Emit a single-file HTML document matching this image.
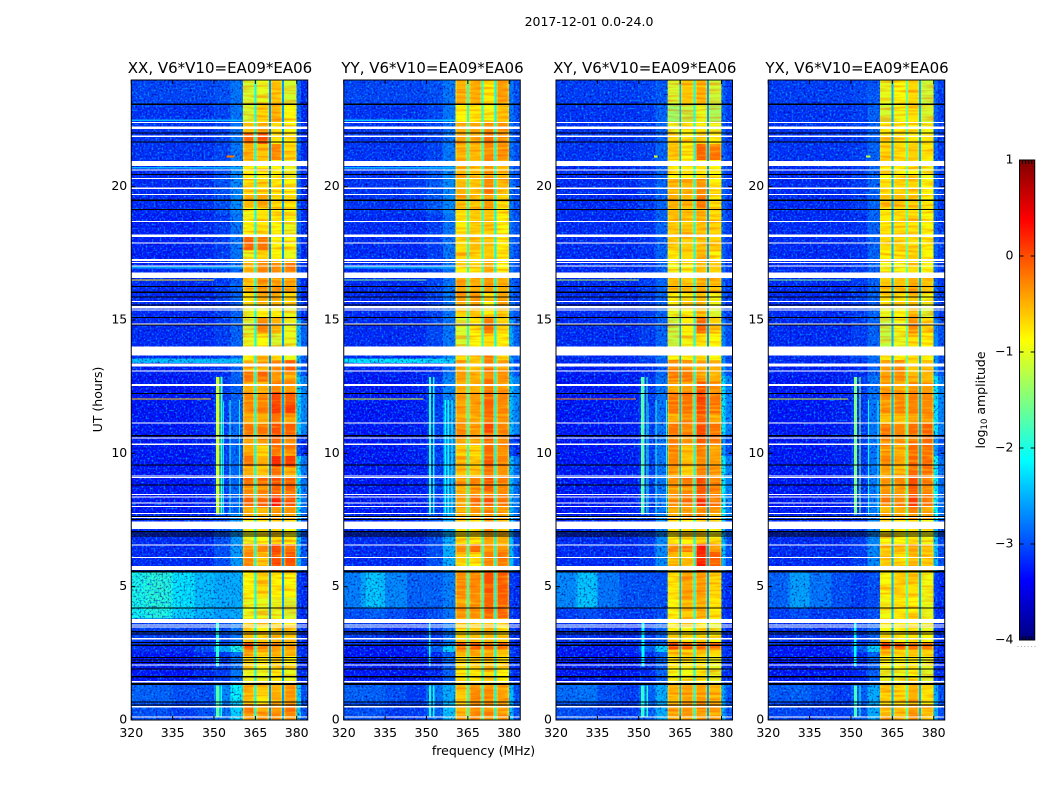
<!DOCTYPE html>
<html lang="en">
<head>
<meta charset="utf-8">
<title>2017-12-01 0.0-24.0</title>
<style>
html,body{margin:0;padding:0;background:#fff;width:1050px;height:800px;overflow:hidden}
svg{display:block}
text{font-family:"DejaVu Sans","Liberation Sans",sans-serif;fill:#000}
</style>
</head>
<body>
<svg id="chart" xmlns="http://www.w3.org/2000/svg" width="1050" height="800" viewBox="0 0 1050 800">
  <defs>
    <filter id="speckleDark" x="0" y="0" width="100%" height="100%" color-interpolation-filters="sRGB">
      <feTurbulence type="fractalNoise" baseFrequency="0.5" numOctaves="1" seed="4"/>
      <feColorMatrix type="matrix" values="0 0 0 0 0  0 0 0 0 0  0 0 0 0 0.55  2.4 0 0 0 -1.15"/>
    </filter>
    <filter id="speckleLight" x="0" y="0" width="100%" height="100%" color-interpolation-filters="sRGB">
      <feTurbulence type="fractalNoise" baseFrequency="0.5" numOctaves="1" seed="11"/>
      <feColorMatrix type="matrix" values="0 0 0 0 0  0 0 0 0 0.65  0 0 0 0 1  0 2.8 0 0 -1.4"/>
    </filter>
    <filter id="stripeRed" x="0" y="0" width="100%" height="100%" color-interpolation-filters="sRGB">
      <feTurbulence type="fractalNoise" baseFrequency="0.04 0.42" numOctaves="1" seed="7"/>
      <feColorMatrix type="matrix" values="0 0 0 0 1  0 0 0 0 0.3  0 0 0 0 0  2.8 0 0 0 -1.2"/>
    </filter>
    <filter id="stripeYellow" x="0" y="0" width="100%" height="100%" color-interpolation-filters="sRGB">
      <feTurbulence type="fractalNoise" baseFrequency="0.04 0.42" numOctaves="1" seed="19"/>
      <feColorMatrix type="matrix" values="0 0 0 0 1  0 0 0 0 1  0 0 0 0 0.1  0 2.8 0 0 -1.35"/>
    </filter>
    <linearGradient id="jetGradient" x1="0" y1="1" x2="0" y2="0"></linearGradient>
  </defs>
  <text x="589" y="26" font-size="12.5" text-anchor="middle">2017-12-01 0.0-24.0</text>
  <text x="483.5" y="755" font-size="12.5" text-anchor="middle">frequency (MHz)</text>
  <text x="0" y="0" font-size="12.5" text-anchor="middle" transform="translate(102,399.5) rotate(-90)">UT (hours)</text>
  <g id="panels"></g>
  <g id="colorbar"></g>
  <text x="0" y="0" font-size="12.5" text-anchor="middle" transform="translate(985,400) rotate(-90)">log<tspan font-size="8.5" dy="2">10</tspan><tspan dy="-2"> amplitude</tspan></text>
</svg>
<script>
// ---- labels and ticks
const panelTitles = ["XX, V6*V10=EA09*EA06", "YY, V6*V10=EA09*EA06", "XY, V6*V10=EA09*EA06", "YX, V6*V10=EA09*EA06"];
const freqTicks = [320, 335, 350, 365, 380];
const utTicks = [0, 5, 10, 15, 20];
const colorbarTicks = [1, 0, -1, -2, -3, -4];

// ---- background grid below the passband: log10 amplitude
const bgFreqEdges = [320, 328, 335, 343, 350, 356, 360.5];
const bgUtEdges = [0, 0.7, 1.35, 2.55, 2.8, 3.8, 4.2, 5.55, 7.7, 12.9, 13.39, 13.55, 14, 17, 19, 21, 23, 24];
const bgXX = [
 [-3,-3,-3.1,-3,-2.8,-2.3],[-2.9,-2.9,-3,-3,-2.7,-2.1],[-3.3,-3.3,-3.3,-3.2,-3.1,-2.8],[-3.2,-3.2,-3.2,-3,-2.5,-2],
 [-3.1,-3.1,-3.1,-3.1,-3,-2.8],[-2.05,-2,-2.3,-2.45,-2.55,-2.5],[-2,-1.95,-2.2,-2.4,-2.5,-2.5],[-3.2,-3.2,-3.2,-3.2,-3,-2.6],[-3.3,-3.3,-3.3,-3.25,-3.1,-2.9],
 [-3.25,-3.25,-3.25,-3.25,-3.2,-2.9],[-2.4,-2.4,-2.4,-2.4,-2.4,-2.4],[-3.2,-3.2,-3.2,-3.2,-3.1,-2.9],[-3.2,-3.2,-3.2,-3.2,-3.1,-2.9],
 [-3.25,-3.25,-3.25,-3.2,-3.1,-2.8],[-3.2,-3.2,-3.2,-3.15,-3,-2.7],[-3.15,-3.15,-3.15,-3.15,-3.05,-2.8],[-3.05,-3.05,-3.05,-3.05,-3,-2.8]];
const bgYY = [
 [-3,-3,-3.1,-3.1,-2.9,-2.4],[-2.9,-2.9,-3,-3.1,-2.8,-2.5],[-3.3,-3.3,-3.3,-3.3,-3.2,-2.9],[-3.3,-3.3,-3.3,-3.2,-2.9,-2.3],
 [-3.1,-3.1,-3.2,-3.2,-3.1,-2.8],[-3,-2.9,-3,-3.1,-3,-2.8],[-2.75,-2.4,-2.7,-2.9,-2.9,-2.75],[-3.2,-3.2,-3.2,-3.2,-3,-2.5],[-3.3,-3.3,-3.3,-3.25,-3.1,-2.7],
 [-3.25,-3.25,-3.25,-3.25,-3.2,-2.8],[-2.2,-2.2,-2.2,-2.2,-2.25,-2.3],[-3.2,-3.2,-3.2,-3.2,-3,-2.7],[-3.2,-3.2,-3.2,-3.2,-3.05,-2.8],
 [-3.2,-3.2,-3.2,-3.2,-3.1,-2.8],[-3.15,-3.15,-3.15,-3.1,-2.95,-2.7],[-3.15,-3.15,-3.15,-3.15,-3.05,-2.8],[-3.05,-3.05,-3.05,-3.05,-3,-2.8]];
const bgXY = [
 [-3,-3,-3.1,-3.1,-2.9,-2.5],[-2.85,-2.8,-3,-3.1,-2.9,-2.5],[-3.3,-3.3,-3.3,-3.3,-3.2,-2.9],[-3.3,-3.3,-3.3,-3.2,-2.9,-2.3],
 [-3.15,-3.15,-3.2,-3.2,-3.1,-2.9],[-3.1,-3,-3.1,-3.1,-3.1,-3],[-2.7,-2.4,-2.8,-3,-3,-3],[-3.2,-3.2,-3.2,-3.2,-3.1,-2.7],[-3.3,-3.3,-3.3,-3.25,-3.1,-2.8],
 [-3.25,-3.25,-3.25,-3.25,-3.2,-2.9],[-3.2,-3.2,-3.2,-3.2,-3.1,-2.9],[-3.2,-3.2,-3.2,-3.2,-3,-2.8],[-3.2,-3.2,-3.2,-3.2,-3.1,-2.9],
 [-3.2,-3.2,-3.2,-3.2,-3.15,-2.9],[-3.2,-3.2,-3.2,-3.2,-3.1,-2.9],[-3.15,-3.15,-3.15,-3.15,-3.1,-2.9],[-3.1,-3.1,-3.1,-3.1,-3.05,-2.95]];
const bgYX = [
 [-3.05,-3.05,-3.1,-3.1,-2.95,-2.5],[-2.95,-2.9,-3,-3.1,-2.9,-2.5],[-3.3,-3.3,-3.3,-3.3,-3.2,-2.9],[-3.3,-3.3,-3.3,-3.2,-2.9,-2.3],
 [-3.15,-3.15,-3.2,-3.2,-3.1,-2.9],[-3.1,-3,-3.1,-3.1,-3.1,-3],[-2.9,-2.6,-2.8,-3,-3.1,-3],[-3.2,-3.2,-3.2,-3.2,-3.1,-2.7],[-3.3,-3.3,-3.3,-3.25,-3.1,-2.8],
 [-3.25,-3.25,-3.25,-3.25,-3.2,-2.9],[-3.2,-3.2,-3.2,-3.2,-3.1,-2.9],[-3.2,-3.2,-3.2,-3.2,-3,-2.8],[-3.2,-3.2,-3.2,-3.2,-3.1,-2.9],
 [-3.2,-3.2,-3.2,-3.2,-3.15,-2.9],[-3.2,-3.2,-3.2,-3.2,-3.1,-2.9],[-3.15,-3.15,-3.15,-3.15,-3.1,-2.9],[-3.1,-3.1,-3.1,-3.1,-3.05,-2.95]];
const bgValues = [bgXX, bgYY, bgXY, bgYX];

// ---- passband grid: four sub-bands
const bandFreqEdges = [360.5, 365, 370, 375, 380];
const bandUtEdges = [0,.3,.6,1,1.35,1.9,2.4,2.65,2.9,3.3,3.8,4.6,5.55,5.9,6.3,6.6,7,7.5,8,8.4,8.8,9.1,9.5,9.9,10.3,10.7,11.1,11.5,11.9,12.3,12.7,13.1,13.5,14,14.5,15.1,15.5,16,16.6,17.2,17.6,18.2,18.7,19.2,19.7,20.3,21,21.6,22,22.4,23.1,24];
const bandXX = [
 [-.4,-.45,-.3,-.3],[-.2,-.5,-.4,-.2],[-.6,-.8,-.5,-.4],[-.5,-.6,-.5,-.3],[-1,-1,-.8,-1],
 [-.7,-.8,-.7,-.9],[-.4,-.6,-.5,-.5],[0,-.3,-.35,-.4],[-.6,-.7,-.6,-.7],[-.7,-.8,-.7,-.8],
 [-1,-1,-1,-1.1],[-.9,-.7,-.85,-.9],[-.3,-.5,.1,-.05],[-.3,-.6,0,0],[-.4,-.3,.05,-.2],
 [-1,-.9,-.7,-.9],[-1,-.8,-.7,-.9],[-.5,-.5,-.4,-.4],[-.1,-.1,.3,0],[-.3,-.3,-.1,-.1],
 [-.2,-.1,0,-.1],[-.5,-.6,-.2,-.5],[-.2,-.5,.2,.1],[-.5,-.7,-.2,-.3],[-.4,-.4,-.1,-.3],
 [-.2,-.2,0,-.1],[-.5,-.5,-.2,-.4],[-.3,-.3,.1,.1],[-.3,-.3,.05,-.1],[-.5,-.5,-.3,-.4],
 [-.2,-.1,-.4,-.5],[-.5,-.4,-.3,-.1],[-.9,-.6,-.7,-1],[-1,-.9,-1.1,-1],[-1.1,-.3,-.5,-1],
 [-1,-.8,-.9,-1],[-.8,-.6,-.5,-.7],[-.6,-.3,-.4,-.5],[-.5,-.3,-.3,-.2],[-1,-.7,-.9,-1],
 [-.1,-.2,-.9,-.9],[-.9,-.8,-.9,-1],[-.95,-.75,-.8,-.9],[-.55,-.45,-.75,-.8],[-.7,-.7,-.8,-.9],
 [-.8,-.8,-.9,-1],[-.5,-.6,-.3,-.7],[-.1,0,-.8,-.8],[-.6,-.5,-.8,-.9],[-1.1,-.7,-.5,-.9],[-1.1,-1,-.6,-1.1]];
const bandYY = [
 [-.4,-.3,-.3,-.35],[-.5,-.35,-.4,-.45],[-.6,-.3,-.35,-.4],[-.55,-.35,-.35,-.45],[-.8,-.8,-.7,-.85],
 [-.7,-.65,-.55,-.75],[-.5,-.4,-.45,-.6],[0,-.1,-.25,-.1],[-.65,-.6,-.55,-.7],[-.75,-.7,-.6,-.8],
 [-.4,-.35,-.1,-.1],[-.35,-.3,0,-.05],[-.8,-.85,-.3,-.2],[-.6,-.75,-.25,-.2],[-.3,-.15,-.4,-.4],
 [-.75,-.8,-.45,-.5],[-.7,-.75,-.4,-.55],[-.5,-.4,-.3,-.4],[-.35,-.15,0,-.2],[-.5,-.35,-.1,-.3],
 [-.45,-.25,0,-.25],[-.55,-.6,-.2,-.35],[-.55,-.65,-.05,-.25],[-.7,-.75,-.15,-.35],[-.4,-.45,-.1,-.3],
 [-.3,-.4,.05,-.25],[-.45,-.5,-.2,-.4],[-.35,-.4,-.1,-.3],[-.4,-.4,-.1,-.3],[-.5,-.5,-.2,-.4],
 [-.4,-.5,-.15,-.35],[-.5,-.6,-.2,-.45],[-.7,-.6,-.3,-.7],[-1.1,-.9,-.7,-.85],[-1.1,-.8,-.25,-.7],
 [-.7,-.6,-.8,-.6],[-.4,-.4,-.85,-.45],[-.45,-.5,-.4,-.5],[-.8,-.75,-.5,-.85],[-.7,-.7,-.6,-.8],
 [-.75,-.6,-.6,-.85],[-.8,-.65,-.65,-.9],[-.75,-.65,-.6,-.85],[-.55,-.6,-.35,-.7],[-.5,-.6,-.3,-.55],
 [-.55,-.65,-.35,-.6],[-.5,-.55,-.3,-.35],[-.4,-.45,-.2,-.3],[-.45,-.45,-.3,-.35],[-.85,-.8,-.95,-.6],[-.45,-.5,-.8,-.4]];
const bandXY = [
 [-.5,-.4,-.4,-.5],[-.4,-.35,-.35,-.4],[-.55,-.4,-.4,-.5],[-.5,-.45,-.45,-.55],[-.95,-.95,-.85,-1],
 [-.8,-.9,-.8,-1],[-.6,-.7,-.6,-.7],[.05,-.05,-.1,-.15],[-.75,-.8,-.75,-.9],[-.85,-.9,-.8,-1],
 [-.9,-.6,-.5,-.8],[-.8,-.45,-.4,-.7],[-.6,-.6,.3,-.1],[-.55,-.65,.25,-.1],[-.3,-.2,.3,-.4],
 [-.85,-.85,-.7,-.9],[-.8,-.8,-.7,-.95],[-.5,-.35,-.3,-.45],[-.3,-.15,.2,-.2],[-.4,-.3,-.05,-.3],
 [-.35,-.25,.05,-.2],[-.4,-.6,-.3,-.4],[-.3,-.6,-.3,-.4],[-.3,-.6,-.25,-.4],[-.25,-.35,-.05,-.25],
 [-.2,-.3,.05,-.2],[-.5,-.3,-.1,-.5],[-.2,-.2,.05,-.2],[-.2,-.2,.1,-.2],[-.5,-.35,-.05,-.4],
 [-.25,-.3,-.4,-.5],[-.35,-.35,-.45,-.5],[-.9,-.9,-.7,-.9],[-1.2,-.95,-.75,-.9],[-1.2,-.8,-.1,-.7],
 [-1,-.9,-.55,-1.1],[-.85,-.8,-.6,-.95],[-.6,-.6,-.5,-.6],[-.95,-.9,-.55,-.65],[-.8,-.7,-.55,-.9],
 [-.65,-.6,-.6,-.7],[-.65,-.6,-.6,-.7],[-.6,-.65,-.5,-.75],[-.5,-.5,-.2,-.8],[-.55,-.5,-.35,-.85],
 [-.85,-.8,-.8,-.9],[-.6,-.9,-.1,-.2],[-.7,-.8,-.6,-.8],[-1,-.8,-.8,-1],[-1.4,-1.2,-1,-1.3],[-1.1,-.6,-.5,-1.15]];
const bandYX = [
 [-.5,-.55,-.35,-.6],[-.6,-.6,-.4,-.6],[-.7,-.7,-.5,-.8],[-.65,-.7,-.5,-.75],[-1,-1,-.9,-1.05],
 [-.85,-.9,-.8,-1],[-.6,-.7,-.6,-.7],[.05,-.05,-.15,-.2],[-.8,-.85,-.75,-.9],[-.9,-.9,-.85,-1],
 [-.95,-.8,-.85,-1],[-.9,-.7,-.75,-.95],[-.7,-.7,-.5,-.6],[-.65,-.75,-.55,-.65],[-.6,-.55,-.45,-.6],
 [-.9,-.9,-.8,-.95],[-.85,-.85,-.75,-.95],[-.5,-.5,-.3,-.45],[-.2,-.3,.1,-.2],[-.35,-.4,-.05,-.3],
 [-.3,-.3,0,-.2],[-.4,-.55,-.15,-.2],[-.35,-.45,-.1,-.15],[-.4,-.5,-.15,-.2],[-.25,-.35,-.15,-.15],
 [-.2,-.3,-.15,-.1],[-.6,-.6,-.4,-.4],[-.3,-.3,-.3,-.3],[-.3,-.3,-.25,-.3],[-.45,-.5,-.3,-.4],
 [-.4,-.35,-.6,-.55],[-.4,-.3,-.7,-.6],[-.9,-.9,-.8,-.9],[-1.2,-1,-.75,-.85],[-1.2,-.95,-.3,-.7],
 [-1,-.9,-.5,-1.1],[-.85,-.8,-.6,-.95],[-.6,-.6,-.5,-.6],[-.95,-.95,-.7,-.9],[-.85,-.8,-.75,-.9],
 [-.7,-.7,-.75,-.85],[-.8,-.75,-.8,-.9],[-.8,-.75,-.75,-.9],[-.65,-.6,-.65,-.85],[-.75,-.7,-.7,-.9],
 [-.85,-.85,-.85,-.95],[-.7,-.75,-.65,-.8],[-.7,-.75,-.8,-.85],[-.85,-.85,-.85,-.95],[-1.1,-.95,-.75,-1.1],[-1,-.9,-.7,-1.15]];
const bandValues = [bandXX, bandYY, bandXY, bandYX];

// ---- channels above the passband
const upperFreqEdges = [380, 381.5, 384];
const upperUtEdges = [0, 1.35, 5.55, 7.5, 9.9, 10.7, 12.9, 13.5, 15, 24];
const upperXX = [[-2.3,-3],[-3.1,-3.2],[-2.4,-3],[-2.2,-2.8],[-3,-3.2],[-2.3,-2.7],[-2.5,-3],[-2.4,-2.9],[-2.9,-3.2]];
const upperYY = [[-2.4,-3],[-3.1,-3.2],[-2.4,-3],[-2.4,-2.8],[-3,-3.2],[-2.4,-2.7],[-2.6,-3],[-2.5,-2.9],[-2.8,-3]];
const upperXY = [[-2.5,-3],[-3.1,-3.2],[-2.4,-3],[-2.1,-2.7],[-2.6,-3],[-2.2,-2.7],[-2.6,-3],[-2.7,-3],[-2.9,-3.1]];
const upperYX = [[-2.5,-3],[-3.1,-3.2],[-2.4,-3],[-2.1,-2.8],[-2.6,-3],[-2.2,-2.7],[-2.6,-3],[-2.7,-3],[-2.9,-3.1]];
const upperValues = [upperXX, upperYY, upperXY, upperYX];

// ---- narrow channels at the sub-band joins and sub-band roll-off
const notchFreqs = [[364.7, 365.4], [369.9, 370.6], [374.7, 375.4]];
const notchLevels = [[-2.05, -2.7, -2.6], [-1.85, -1.9, -2.1], [-2.5, -2, -2.6], [-2.5, -1.6, -2.5]];
const rolloffFreqs = [[360.5, 361], [364.2, 364.7], [365.4, 365.9], [369.4, 369.9], [370.6, 371.1], [374.2, 374.7], [375.4, 375.9], [379.4, 379.9]];
const rolloffLevel = -1.15;

// ---- interference and broad features: [freqLow, freqHigh, utLow, utHigh, level]
const rfiXX = [[325,332,3.8,5.55,-1.85],[350.8,352,7.7,12.87,-1.1],[352.4,353,7.7,12.87,-1.8],[353.3,353.7,7.7,11.94,-2.2],[355.6,356,7.7,12,-2],[359,359.4,7.7,12,-2.2],[350.8,352,.1,1.3,-1.7],[352.4,352.9,.1,1.3,-2.1],[350.8,351.9,2,3.65,-1.9],[320,349,12.02,12.06,-.6],[320,350,16.48,16.52,-.8],[320,360.5,22.46,22.51,-2.5],[354.5,357.5,21.1,21.16,-.2],[320,360.5,20.68,20.73,-2.5],[320,360.5,16.94,17,-2.6]];
const rfiYY = [[326,333,4.2,5.55,-2.25],[350.9,351.7,7.7,12.86,-1.9],[352.4,352.9,7.7,12.86,-2.1],[356.5,357,7.7,12,-2.1],[357.7,358.1,7.7,12,-2.1],[359,359.5,7.7,12,-2],[351,351.6,.1,1.3,-2],[352.4,352.9,.1,1.3,-2.1],[351,351.5,2,3.65,-2.1],[320,349,12.02,12.06,-1],[320,350,16.48,16.52,-1.5],[320,360.5,22.46,22.51,-2.4],[320,360.5,20.68,20.73,-2.5],[320,360.5,16.94,17,-2.6]];
const rfiXY = [[327,334,4.2,5.55,-2.3],[350.9,352.1,7.7,12.86,-1.7],[352.8,353.2,7.7,12.86,-1.9],[353.5,353.8,7.7,11.9,-2.2],[356.1,356.5,7.7,12,-2],[359.8,360.2,7.7,12,-2],[350.9,352,.1,1.3,-1.9],[352.8,353.3,.1,1.3,-2],[351,352,2,3.65,-2.1],[320,349,12.02,12.06,-.3],[320,350,16.48,16.52,-1.2],[355.5,356.8,21.1,21.16,-1]];
const rfiYX = [[327,335,4.2,5.55,-2.5],[351.1,352.1,7.7,12.86,-1.5],[353.1,353.5,7.7,12.86,-1.3],[356.1,356.5,7.7,12,-2.1],[359.6,360,7.7,12,-2.1],[351.1,352.1,.1,1.3,-1.8],[353.1,353.5,.1,1.3,-2],[351.1,352,2,3.65,-2.1],[320,349,12.02,12.06,-1],[320,350,16.48,16.52,-1.5],[355.5,357,21.1,21.16,-1.2]];
const rfiValues = [rfiXX, rfiYY, rfiXY, rfiYX];

// ---- flagged time ranges [utLow, utHigh]
const whiteFlags = [[.09,.14],[.47,.52],[1.41,1.46],[2.04,2.09],[3.02,3.07],[3.47,3.51],[3.54,3.58],[3.63,3.79],[5.63,5.78],[6.07,6.11],[6.55,6.59],[7.16,7.44],[7.57,7.61],[7.73,7.77],[7.98,8.02],[8.11,8.15],[8.35,8.39],[8.44,8.48],[9.07,9.11],[9.13,9.17],[10.32,10.36],[10.56,10.6],[11.11,11.15],[12.52,12.6],[13.06,13.1],[13.26,13.36],[13.67,14],[14.83,14.87],[15.36,15.4],[15.44,15.52],[15.67,15.71],[16.57,16.79],[17.01,17.05],[17.13,17.17],[17.21,17.29],[17.86,17.9],[18.12,18.2],[18.68,18.72],[19.69,19.73],[19.92,19.96],[20.29,20.33],[20.61,20.65],[20.78,20.96],[21.87,21.91],[22.16,22.26],[22.39,22.43]];
const blackFlags = [[.54,.58],[.66,.7],[1.32,1.39],[1.6,1.65],[1.89,1.93],[2.13,2.17],[2.23,2.27],[2.32,2.36],[2.78,2.84],[2.88,2.93],[3.2,3.24],[3.29,3.33],[4.18,4.22],[5.53,5.6],[6.88,6.92],[6.95,6.99],[7.03,7.09],[7.5,7.54],[7.62,7.65],[8.79,8.83],[9.54,9.58],[10.64,10.68],[12.23,12.27],[14.79,14.83],[15.08,15.12],[15.55,15.59],[15.85,15.89],[16.02,16.06],[16.24,16.28],[19.13,19.17],[19.47,19.51],[20.44,20.48],[21.66,21.7],[22,22.04],[23.07,23.11]];

// ---- layout and axis functions
const SVGNS = "http://www.w3.org/2000/svg";
const panelLeft = [131.25, 343.75, 556, 768.25];
const panelWidth = 176.5;
const plotTop = 80;
const plotBottom = 720;
const freqMin = 320, freqMax = 384, utMin = 0, utMax = 24;
const levelMin = -4, levelMax = 1;

function xScale(p, f) { return panelLeft[p] + (f - freqMin) / (freqMax - freqMin) * panelWidth; }
function yScale(u) { return plotBottom - (u - utMin) / (utMax - utMin) * (plotBottom - plotTop); }
function clamp01(v) { return Math.max(0, Math.min(1, v)); }
function jet(level) {
  const t = clamp01((level - levelMin) / (levelMax - levelMin));
  const r = clamp01(Math.min(4 * t - 1.5, -4 * t + 4.5));
  const g = clamp01(Math.min(4 * t - 0.5, -4 * t + 3.5));
  const b = clamp01(Math.min(4 * t + 0.5, -4 * t + 2.5));
  return "rgb(" + Math.round(r * 255) + "," + Math.round(g * 255) + "," + Math.round(b * 255) + ")";
}
function make(tag, attrs, parent) {
  const el = document.createElementNS(SVGNS, tag);
  for (const k in attrs) el.setAttribute(k, attrs[k]);
  parent.appendChild(el);
  return el;
}
function spanRect(p, parent, f0, f1, u0, u1, fill) {
  const x0 = xScale(p, f0), x1 = xScale(p, f1), y0 = yScale(u1), y1 = yScale(u0);
  return make("rect", { x: x0.toFixed(2), y: y0.toFixed(2), width: (x1 - x0).toFixed(2), height: (y1 - y0).toFixed(2), fill: fill }, parent);
}

const panelsRoot = document.getElementById("panels");
const defs = document.querySelector("defs");
const panelKeys = ["xx", "yy", "xy", "yx"];

panelTitles.forEach(function (title, p) {
  const key = panelKeys[p];
  const L = panelLeft[p], R = L + panelWidth;

  const clip = make("clipPath", { id: "clip" + p }, defs);
  make("rect", { x: L, y: plotTop, width: panelWidth, height: plotBottom - plotTop }, clip);

  const g = make("g", {}, panelsRoot);
  
  

  const plot = make("g", { "clip-path": "url(#clip" + p + ")", "shape-rendering": "crispEdges" }, g);
  
  

  // background cells
  bgValues[p].forEach(function (row, r) {
    row.forEach(function (level, c) {
      const cell = spanRect(p, plot, bgFreqEdges[c], bgFreqEdges[c + 1] + 0.4, bgUtEdges[r], bgUtEdges[r + 1], jet(level));
      
      
    });
  });
  // passband cells
  bandValues[p].forEach(function (row, r) {
    row.forEach(function (level, c) {
      const cell = spanRect(p, plot, bandFreqEdges[c], bandFreqEdges[c + 1], bandUtEdges[r], bandUtEdges[r + 1], jet(level));
      
      
    });
  });
  // channels above the passband
  upperValues[p].forEach(function (row, r) {
    row.forEach(function (level, c) {
      const cell = spanRect(p, plot, upperFreqEdges[c], upperFreqEdges[c + 1], upperUtEdges[r], upperUtEdges[r + 1], jet(level));
      
      
    });
  });
  // roll-off at sub-band edges
  rolloffFreqs.forEach(function (range) {
    const edge = spanRect(p, plot, range[0], range[1], utMin, utMax, jet(rolloffLevel));
    edge.setAttribute("opacity", "0.5");
    
    
  });
  // broad features go under the noise so the grain stays on top
  rfiValues[p].forEach(function (d) {
    if (d[1] - d[0] > 5 && d[3] - d[2] > 1) {
      const glow = spanRect(p, plot, d[0], d[1], d[2], d[3], jet(d[4]));
      glow.setAttribute("opacity", "0.4");
      
      
    }
  });
  // noise textures
  const bgX = xScale(p, freqMin), bandX = xScale(p, bandFreqEdges[0]), bandEnd = xScale(p, bandFreqEdges[4]), endX = xScale(p, freqMax);
  [[bgX, bandX], [bandEnd, endX]].forEach(function (span) {
    const n1 = make("rect", { x: span[0], y: plotTop, width: span[1] - span[0], height: plotBottom - plotTop, filter: "url(#speckleDark)" }, plot);
    
    
    const n2 = make("rect", { x: span[0], y: plotTop, width: span[1] - span[0], height: plotBottom - plotTop, filter: "url(#speckleLight)" }, plot);
    
    
  });
  const n3 = make("rect", { x: bandX, y: plotTop, width: bandEnd - bandX, height: plotBottom - plotTop, filter: "url(#stripeRed)", opacity: "0.5" }, plot);
  
  
  const n4 = make("rect", { x: bandX, y: plotTop, width: bandEnd - bandX, height: plotBottom - plotTop, filter: "url(#stripeYellow)", opacity: "0.45" }, plot);
  
  
  // notches
  notchFreqs.forEach(function (range, i) {
    const notch = spanRect(p, plot, range[0], range[1], utMin, utMax, jet(notchLevels[p][i]));
    
    
  });
  // interference
  rfiValues[p].forEach(function (d) {
    if (d[1] - d[0] > 5 && d[3] - d[2] > 1) return;
    const rfi = spanRect(p, plot, d[0], d[1], d[2], d[3], jet(d[4]));
    
    
  });
  // flags
  blackFlags.forEach(function (d) {
    const flag = spanRect(p, plot, freqMin, freqMax, d[0], d[1], "#000");
    
    
  });
  whiteFlags.forEach(function (d) {
    const flag = spanRect(p, plot, freqMin, freqMax, d[0], d[1], "#fff");
    
    
  });

  // ticks
  const ticks = make("g", { stroke: "#000", "stroke-width": "1" }, g);
  
  
  freqTicks.forEach(function (f) {
    const x = xScale(p, f);
    make("line", { x1: x, x2: x, y1: plotBottom, y2: plotBottom - 4 }, ticks);
    make("line", { x1: x, x2: x, y1: plotTop, y2: plotTop + 4 }, ticks);
    const label = make("text", { x: x, y: 737, "font-size": "12.5", "text-anchor": "middle", stroke: "none" }, g);
    label.textContent = String(f);
    
    
  });
  utTicks.forEach(function (u) {
    const y = yScale(u);
    make("line", { x1: L, x2: L + 4, y1: y, y2: y }, ticks);
    make("line", { x1: R, x2: R - 4, y1: y, y2: y }, ticks);
    const label = make("text", { x: L - 4, y: y + 3.5, "font-size": "12.5", "text-anchor": "end", stroke: "none" }, g);
    label.textContent = String(u);
    
    
  });

  // frame
  const frame = make("rect", { x: L, y: plotTop, width: panelWidth, height: plotBottom - plotTop, fill: "none", stroke: "#000", "stroke-width": "1" }, g);
  
  

  const titleEl = make("text", { x: L + panelWidth / 2 + 0.5, y: 73, "font-size": "15", "text-anchor": "middle" }, g);
  titleEl.textContent = title;
  
  
});

// ---- colorbar
const cbRoot = document.getElementById("colorbar");
const cbLeft = 1019.5, cbRight = 1034.75, cbTop = 160, cbBottom = 640;
function cbY(level) { return cbBottom - (level - levelMin) / (levelMax - levelMin) * (cbBottom - cbTop); }
const gradient = document.getElementById("jetGradient");
for (let i = 0; i <= 64; i++) {
  const level = levelMin + (levelMax - levelMin) * i / 64;
  make("stop", { offset: (i / 64 * 100).toFixed(2) + "%", "stop-color": jet(level) }, gradient);
}
const cbBar = make("rect", { x: cbLeft, y: cbTop, width: cbRight - cbLeft, height: cbBottom - cbTop, fill: "url(#jetGradient)", stroke: "#000", "stroke-width": "1" }, cbRoot);


colorbarTicks.forEach(function (level) {
  const y = cbY(level);
  make("line", { x1: cbLeft, x2: cbLeft + 4, y1: y, y2: y, stroke: "#000" }, cbRoot);
  make("line", { x1: cbRight, x2: cbRight - 4, y1: y, y2: y, stroke: "#000" }, cbRoot);
  const label = make("text", { x: 1013.5, y: y + 3.5, "font-size": "12.5", "text-anchor": "end" }, cbRoot);
  label.textContent = (level < 0 ? "\u2212" + (-level) : String(level));
  
  
});
for (let i = 1; i <= 4; i++) {
  const x = cbLeft + (cbRight - cbLeft) * i / 5;
  make("line", { x1: x, x2: x, y1: cbTop, y2: cbTop + 4, stroke: "#000" }, cbRoot);
  make("line", { x1: x, x2: x, y1: cbBottom, y2: cbBottom - 4, stroke: "#000" }, cbRoot);
}
for (let i = 0; i < 6; i++) {
  make("rect", { x: 1017.5 + i * 3.4, y: 646, width: 1, height: 1, fill: "#aaa" }, cbRoot);
}
</script>
</body>
</html>
